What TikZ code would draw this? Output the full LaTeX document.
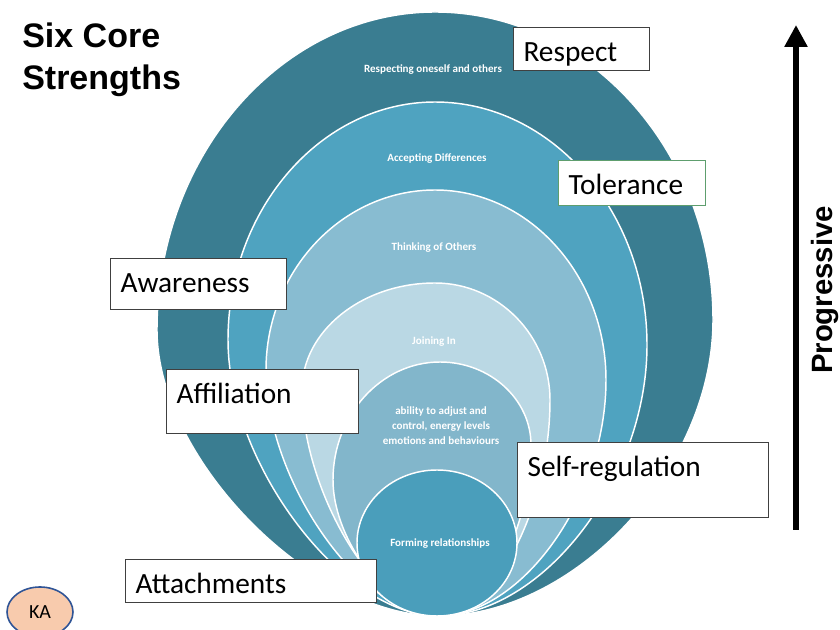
\documentclass[tikz,border=0pt]{standalone}
\usepackage{fontspec}
\setmainfont{Carlito}
\newfontfamily\arialfont{Liberation Sans}
\usetikzlibrary{
    shapes.geometric,  % Ellipse for the KA badge
    arrows.meta        % Modern arrow tips
}

% ring colours, outside to inside
\definecolor{ringA}{HTML}{3A7D91}
\definecolor{ringB}{HTML}{4FA3C0}
\definecolor{ringC}{HTML}{88BCD1}
\definecolor{ringD}{HTML}{BAD8E4}
\definecolor{ringE}{HTML}{82B6CB}
\definecolor{ringF}{HTML}{4A9EBB}
\definecolor{boxgray}{HTML}{404040}
\definecolor{boxgreen}{HTML}{5E9E6E}
\definecolor{kapeach}{HTML}{F8CBAD}
\definecolor{kablue}{HTML}{2F5496}

\tikzset{
    ring/.style={draw=white, line width=1.1pt},
    ringtext/.style={text=white, align=center, inner sep=0pt,
        font=\bfseries\fontsize{8.3}{11.25}\selectfont},
    strength/.style={draw=boxgray, fill=white, line width=0.8pt,
        anchor=north west, align=left, inner xsep=7.5pt, inner ysep=0pt,
        text height=25.5pt, font=\fontsize{22}{26}\selectfont},
}

\begin{document}
\begin{tikzpicture}[x=0.75pt, y=-0.75pt]
    \useasboundingbox (0,0) rectangle (840,630);

    % nested egg shapes, all meeting at the bottom
    \foreach \col/\lx/\ly/\tx/\ty/\rx/\ry in {
        ringA/157/330/435/12/713/320,
        ringB/228/340/435/102/647/345,
        ringC/266/370/435/190/606/380,
        ringD/302/390/435/283/550/400,
        ringE/333/480/440/362/531/445}
      \filldraw[ring, fill=\col] (438,616)
        .. controls ({438-0.45*(438-\lx)},616) and (\lx,{\ly+0.45*(616-\ly)}) .. (\lx,\ly)
        .. controls (\lx,{\ly-0.55*(\ly-\ty)}) and ({\tx-0.55*(\tx-\lx)},\ty) .. (\tx,\ty)
        .. controls ({\tx+0.55*(\rx-\tx)},\ty) and (\rx,{\ry-0.55*(\ry-\ty)}) .. (\rx,\ry)
        .. controls (\rx,{\ry+0.5*(616-\ry)}) and ({438+0.5*(\rx-438)},616) .. cycle;
    \filldraw[ring, fill=ringF] (437,543) ellipse [x radius=80, y radius=73];

    % texts inside the rings
    \node[ringtext] (respecting) at (433,70) {Respecting oneself and others};
    \node[ringtext] (accepting) at (437,159) {Accepting Differences};
    \node[ringtext] (thinking) at (434,248) {Thinking of Others};
    \node[ringtext] (joining) at (434,342) {Joining In};
    \node[ringtext] (ability) at (441,426) {ability to adjust and\\control, energy levels\\emotions and behaviours};
    \node[ringtext] (forming) at (440,544) {Forming relationships};

    % strength labels
    \node[strength, text width=87pt, text depth=6.75pt] (respect) at (513,27) {Respect};
    \node[strength, draw=boxgreen, text width=95.25pt, text depth=8.25pt] (tolerance) at (558,160) {Tolerance};
    \node[strength, text width=117pt, text depth=12.75pt] (awareness) at (110,258) {Awareness};
    \node[strength, text width=129pt, text depth=22.5pt] (affiliation) at (166,369) {Affiliation};
    \node[strength, text width=173.25pt, text depth=30.75pt] (selfreg) at (517,442) {Self-regulation};
    \node[strength, text width=173.25pt, text depth=6.75pt] (attachments) at (125,559) {Attachments};

    % title
    \node[anchor=north west, align=left, inner sep=0pt,
          font=\arialfont\bfseries\fontsize{25.5}{31}\selectfont] (title) at (22,23) {Six Core\\Strengths};

    % progression arrow
    \coordinate (arrowfoot) at (796,530);
    \coordinate (arrowtip) at (796,25);
    \draw[line width=4.5pt, -{Triangle[length=16.5pt, width=16.5pt]}] (arrowfoot) -- (arrowtip);
    \node[rotate=90, anchor=base, inner sep=0pt,
          font=\arialfont\bfseries\fontsize{22}{26}\selectfont] (progressive) at (832,290) {Progressive};

    % KA badge
    \node[ellipse, draw=kablue, fill=kapeach, line width=1.2pt,
          minimum width=49.5pt, minimum height=37.5pt, inner sep=0pt,
          font=\fontsize{15}{17}\selectfont] (ka) at (40,612) {KA};
\end{tikzpicture}
\end{document}
